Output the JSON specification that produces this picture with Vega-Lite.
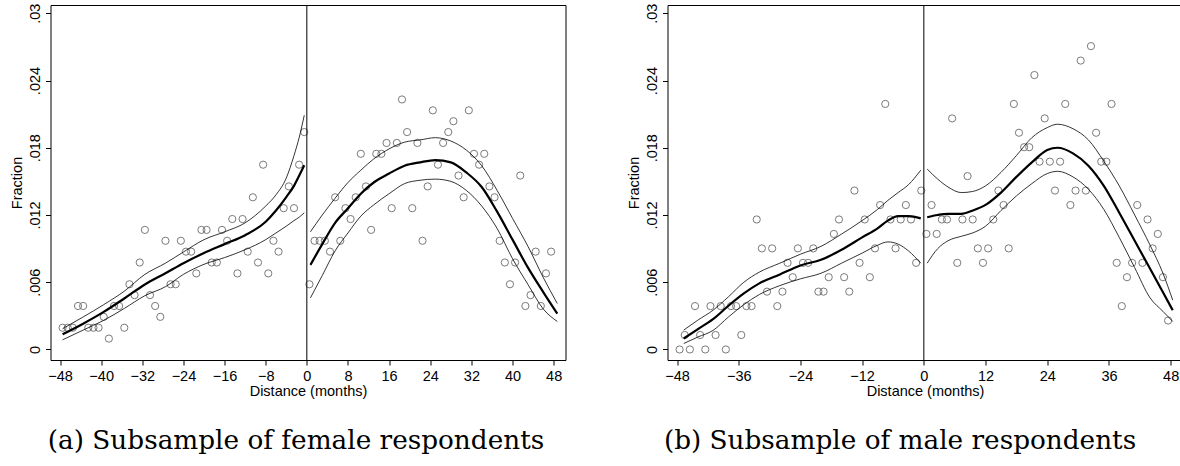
{
  "$schema": "https://vega.github.io/schema/vega-lite/v6.json",
  "background": "white",
  "padding": {"left": 8.5, "top": 2, "right": 0, "bottom": 0},
  "spacing": 59,
  "config": {
    "view": {"stroke": "black", "strokeWidth": 1},
    "axis": {"grid": false, "domain": false, "tickColor": "black", "tickSize": 5, "labelFont": "Liberation Sans", "labelFontSize": 14.5, "labelColor": "black", "titleFont": "Liberation Sans", "titleFontSize": 14.5, "titleFontWeight": "normal", "titleColor": "black", "labelFlush": false, "labelOverlap": false},
    "title": {"font": "DejaVu Serif", "fontSize": 26.3, "fontWeight": "normal", "color": "black"}
  },
  "datasets": {
    "fpts": [
      {"m": -47.5, "v": 0.00194}, {"m": -46.5, "v": 0.00194}, {"m": -45.5, "v": 0.00194}, {"m": -44.5, "v": 0.00388}, {"m": -43.5, "v": 0.00388}, {"m": -42.5, "v": 0.00194}, {"m": -41.5, "v": 0.00194}, {"m": -40.5, "v": 0.00194}, {"m": -39.5, "v": 0.00291}, {"m": -38.5, "v": 0.00097}, {"m": -37.5, "v": 0.00388}, {"m": -36.5, "v": 0.00388}, {"m": -35.5, "v": 0.00194}, {"m": -34.5, "v": 0.00582}, {"m": -33.5, "v": 0.00485}, {"m": -32.5, "v": 0.00776}, {"m": -31.5, "v": 0.01067}, {"m": -30.5, "v": 0.00485}, {"m": -29.5, "v": 0.00388}, {"m": -28.5, "v": 0.00291}, {"m": -27.5, "v": 0.0097}, {"m": -26.5, "v": 0.00582}, {"m": -25.5, "v": 0.00582}, {"m": -24.5, "v": 0.0097}, {"m": -23.5, "v": 0.00873}, {"m": -22.5, "v": 0.00873}, {"m": -21.5, "v": 0.00679}, {"m": -20.5, "v": 0.01067}, {"m": -19.5, "v": 0.01067}, {"m": -18.5, "v": 0.00776}, {"m": -17.5, "v": 0.00776}, {"m": -16.5, "v": 0.01067}, {"m": -15.5, "v": 0.0097}, {"m": -14.5, "v": 0.01164}, {"m": -13.5, "v": 0.00679}, {"m": -12.5, "v": 0.01164}, {"m": -11.5, "v": 0.00873}, {"m": -10.5, "v": 0.01358}, {"m": -9.5, "v": 0.00776}, {"m": -8.5, "v": 0.01649}, {"m": -7.5, "v": 0.00679}, {"m": -6.5, "v": 0.0097}, {"m": -5.5, "v": 0.00873}, {"m": -4.5, "v": 0.01261}, {"m": -3.5, "v": 0.01455}, {"m": -2.5, "v": 0.01261}, {"m": -1.5, "v": 0.01649}, {"m": -0.5, "v": 0.0194},
      {"m": 0.5, "v": 0.00582}, {"m": 1.5, "v": 0.0097}, {"m": 2.5, "v": 0.0097}, {"m": 3.5, "v": 0.0097}, {"m": 4.5, "v": 0.00873}, {"m": 5.5, "v": 0.01358}, {"m": 6.5, "v": 0.0097}, {"m": 7.5, "v": 0.01261}, {"m": 8.5, "v": 0.01164}, {"m": 9.5, "v": 0.01358}, {"m": 10.5, "v": 0.01746}, {"m": 11.5, "v": 0.01455}, {"m": 12.5, "v": 0.01067}, {"m": 13.5, "v": 0.01746}, {"m": 14.5, "v": 0.01746}, {"m": 15.5, "v": 0.01843}, {"m": 16.5, "v": 0.01261}, {"m": 17.5, "v": 0.01843}, {"m": 18.5, "v": 0.02231}, {"m": 19.5, "v": 0.0194}, {"m": 20.5, "v": 0.01261}, {"m": 21.5, "v": 0.01843}, {"m": 22.5, "v": 0.0097}, {"m": 23.5, "v": 0.01455}, {"m": 24.5, "v": 0.02134}, {"m": 25.5, "v": 0.01649}, {"m": 26.5, "v": 0.01843}, {"m": 27.5, "v": 0.0194}, {"m": 28.5, "v": 0.02037}, {"m": 29.5, "v": 0.01552}, {"m": 30.5, "v": 0.01358}, {"m": 31.5, "v": 0.02134}, {"m": 32.5, "v": 0.01746}, {"m": 33.5, "v": 0.01649}, {"m": 34.5, "v": 0.01746}, {"m": 35.5, "v": 0.01455}, {"m": 36.5, "v": 0.01358}, {"m": 37.5, "v": 0.0097}, {"m": 38.5, "v": 0.00776}, {"m": 39.5, "v": 0.00582}, {"m": 40.5, "v": 0.00776}, {"m": 41.5, "v": 0.01552}, {"m": 42.5, "v": 0.00388}, {"m": 43.5, "v": 0.00485}, {"m": 44.5, "v": 0.00873}, {"m": 45.5, "v": 0.00388}, {"m": 46.5, "v": 0.00679}, {"m": 47.5, "v": 0.00873}
    ],
    "mpts": [
      {"m": -47.5, "v": 0}, {"m": -46.5, "v": 0.00129}, {"m": -45.5, "v": 0}, {"m": -44.5, "v": 0.00387}, {"m": -43.5, "v": 0.00129}, {"m": -42.5, "v": 0}, {"m": -41.5, "v": 0.00387}, {"m": -40.5, "v": 0.00129}, {"m": -39.5, "v": 0.00387}, {"m": -38.5, "v": 0}, {"m": -37.5, "v": 0.00387}, {"m": -36.5, "v": 0.00387}, {"m": -35.5, "v": 0.00129}, {"m": -34.5, "v": 0.00387}, {"m": -33.5, "v": 0.00387}, {"m": -32.5, "v": 0.0116}, {"m": -31.5, "v": 0.00902}, {"m": -30.5, "v": 0.00516}, {"m": -29.5, "v": 0.00902}, {"m": -28.5, "v": 0.00387}, {"m": -27.5, "v": 0.00516}, {"m": -26.5, "v": 0.00773}, {"m": -25.5, "v": 0.00645}, {"m": -24.5, "v": 0.00902}, {"m": -23.5, "v": 0.00773}, {"m": -22.5, "v": 0.00773}, {"m": -21.5, "v": 0.00902}, {"m": -20.5, "v": 0.00516}, {"m": -19.5, "v": 0.00516}, {"m": -18.5, "v": 0.00645}, {"m": -17.5, "v": 0.01031}, {"m": -16.5, "v": 0.0116}, {"m": -15.5, "v": 0.00645}, {"m": -14.5, "v": 0.00516}, {"m": -13.5, "v": 0.01418}, {"m": -12.5, "v": 0.00773}, {"m": -11.5, "v": 0.0116}, {"m": -10.5, "v": 0.00645}, {"m": -9.5, "v": 0.00902}, {"m": -8.5, "v": 0.01289}, {"m": -7.5, "v": 0.02191}, {"m": -6.5, "v": 0.0116}, {"m": -5.5, "v": 0.00902}, {"m": -4.5, "v": 0.0116}, {"m": -3.5, "v": 0.01289}, {"m": -2.5, "v": 0.0116}, {"m": -1.5, "v": 0.00773}, {"m": -0.5, "v": 0.01418},
      {"m": 0.5, "v": 0.01031}, {"m": 1.5, "v": 0.01289}, {"m": 2.5, "v": 0.01031}, {"m": 3.5, "v": 0.0116}, {"m": 4.5, "v": 0.0116}, {"m": 5.5, "v": 0.02062}, {"m": 6.5, "v": 0.00773}, {"m": 7.5, "v": 0.0116}, {"m": 8.5, "v": 0.01547}, {"m": 9.5, "v": 0.0116}, {"m": 10.5, "v": 0.00902}, {"m": 11.5, "v": 0.00773}, {"m": 12.5, "v": 0.00902}, {"m": 13.5, "v": 0.0116}, {"m": 14.5, "v": 0.01418}, {"m": 15.5, "v": 0.01289}, {"m": 16.5, "v": 0.00902}, {"m": 17.5, "v": 0.02191}, {"m": 18.5, "v": 0.01934}, {"m": 19.5, "v": 0.01805}, {"m": 20.5, "v": 0.01805}, {"m": 21.5, "v": 0.02449}, {"m": 22.5, "v": 0.01676}, {"m": 23.5, "v": 0.02062}, {"m": 24.5, "v": 0.01676}, {"m": 25.5, "v": 0.01418}, {"m": 26.5, "v": 0.01676}, {"m": 27.5, "v": 0.02191}, {"m": 28.5, "v": 0.01289}, {"m": 29.5, "v": 0.01418}, {"m": 30.5, "v": 0.02578}, {"m": 31.5, "v": 0.01418}, {"m": 32.5, "v": 0.02707}, {"m": 33.5, "v": 0.01934}, {"m": 34.5, "v": 0.01676}, {"m": 35.5, "v": 0.01676}, {"m": 36.5, "v": 0.02191}, {"m": 37.5, "v": 0.00773}, {"m": 38.5, "v": 0.00387}, {"m": 39.5, "v": 0.00645}, {"m": 40.5, "v": 0.00773}, {"m": 41.5, "v": 0.01289}, {"m": 42.5, "v": 0.00773}, {"m": 43.5, "v": 0.0116}, {"m": 44.5, "v": 0.00902}, {"m": 45.5, "v": 0.01031}, {"m": 46.5, "v": 0.00645}, {"m": 47.5, "v": 0.00258}
    ],
    "ffit": [
      {"seg": "L", "m": -47.5, "fit": 0.00135, "lo": 0.00086, "hi": 0.00185},
      {"seg": "L", "m": -43.5, "fit": 0.0023, "lo": 0.00173, "hi": 0.0029},
      {"seg": "L", "m": -39.5, "fit": 0.00335, "lo": 0.0026, "hi": 0.004},
      {"seg": "L", "m": -35.5, "fit": 0.00455, "lo": 0.00366, "hi": 0.0052},
      {"seg": "L", "m": -31.5, "fit": 0.0058, "lo": 0.0048, "hi": 0.0067},
      {"seg": "L", "m": -27.5, "fit": 0.0068, "lo": 0.0056, "hi": 0.0077},
      {"seg": "L", "m": -24, "fit": 0.0077, "lo": 0.0067, "hi": 0.0087},
      {"seg": "L", "m": -20, "fit": 0.0086, "lo": 0.0076, "hi": 0.0098},
      {"seg": "L", "m": -16, "fit": 0.0094, "lo": 0.0082, "hi": 0.0105},
      {"seg": "L", "m": -12, "fit": 0.0102, "lo": 0.0089, "hi": 0.0113},
      {"seg": "L", "m": -8, "fit": 0.0114, "lo": 0.0098, "hi": 0.0128},
      {"seg": "L", "m": -6, "fit": 0.0124, "lo": 0.0104, "hi": 0.0138},
      {"seg": "L", "m": -4, "fit": 0.0136, "lo": 0.011, "hi": 0.0153},
      {"seg": "L", "m": -2.5, "fit": 0.0146, "lo": 0.0115, "hi": 0.0173},
      {"seg": "L", "m": -1.5, "fit": 0.0155, "lo": 0.0118, "hi": 0.0189},
      {"seg": "L", "m": -0.5, "fit": 0.01644, "lo": 0.0122, "hi": 0.0209},
      {"seg": "R", "m": 0.7, "fit": 0.00755, "lo": 0.0046, "hi": 0.0105},
      {"seg": "R", "m": 3, "fit": 0.0094, "lo": 0.0066, "hi": 0.012},
      {"seg": "R", "m": 5.5, "fit": 0.0113, "lo": 0.0088, "hi": 0.0135},
      {"seg": "R", "m": 8, "fit": 0.0126, "lo": 0.0104, "hi": 0.0149},
      {"seg": "R", "m": 10.5, "fit": 0.0139, "lo": 0.0119, "hi": 0.016},
      {"seg": "R", "m": 13, "fit": 0.0149, "lo": 0.0129, "hi": 0.017},
      {"seg": "R", "m": 16, "fit": 0.0157, "lo": 0.0139, "hi": 0.0179},
      {"seg": "R", "m": 19, "fit": 0.0164, "lo": 0.0148, "hi": 0.0185},
      {"seg": "R", "m": 22, "fit": 0.0167, "lo": 0.0151, "hi": 0.0187},
      {"seg": "R", "m": 25, "fit": 0.0169, "lo": 0.0152, "hi": 0.0189},
      {"seg": "R", "m": 28, "fit": 0.0167, "lo": 0.015, "hi": 0.0186},
      {"seg": "R", "m": 31, "fit": 0.0158, "lo": 0.0142, "hi": 0.0178},
      {"seg": "R", "m": 34, "fit": 0.0145, "lo": 0.0128, "hi": 0.0164},
      {"seg": "R", "m": 37, "fit": 0.0123, "lo": 0.0108, "hi": 0.0142},
      {"seg": "R", "m": 40, "fit": 0.0098, "lo": 0.0081, "hi": 0.0117},
      {"seg": "R", "m": 43, "fit": 0.0073, "lo": 0.0058, "hi": 0.0092},
      {"seg": "R", "m": 46, "fit": 0.0051, "lo": 0.0036, "hi": 0.0064},
      {"seg": "R", "m": 48.7, "fit": 0.0032, "lo": 0.0025, "hi": 0.0041}
    ],
    "mfit": [
      {"seg": "L", "m": -46.7, "fit": 0.00098, "lo": 0.00053, "hi": 0.00173},
      {"seg": "L", "m": -44, "fit": 0.0018, "lo": 0.0011, "hi": 0.0026},
      {"seg": "L", "m": -41, "fit": 0.0027, "lo": 0.0017, "hi": 0.0035},
      {"seg": "L", "m": -38, "fit": 0.0039, "lo": 0.0029, "hi": 0.0047},
      {"seg": "L", "m": -35, "fit": 0.005, "lo": 0.004, "hi": 0.006},
      {"seg": "L", "m": -32, "fit": 0.0059, "lo": 0.0049, "hi": 0.0069},
      {"seg": "L", "m": -28, "fit": 0.0067, "lo": 0.0057, "hi": 0.0077},
      {"seg": "L", "m": -24, "fit": 0.0075, "lo": 0.0063, "hi": 0.0085},
      {"seg": "L", "m": -20, "fit": 0.008, "lo": 0.0068, "hi": 0.0092},
      {"seg": "L", "m": -16, "fit": 0.0089, "lo": 0.0077, "hi": 0.0103},
      {"seg": "L", "m": -12, "fit": 0.01, "lo": 0.0086, "hi": 0.0115},
      {"seg": "L", "m": -9, "fit": 0.0108, "lo": 0.0093, "hi": 0.0125},
      {"seg": "L", "m": -7, "fit": 0.0115, "lo": 0.0096, "hi": 0.0133},
      {"seg": "L", "m": -5, "fit": 0.0119, "lo": 0.0094, "hi": 0.014},
      {"seg": "L", "m": -3, "fit": 0.0119, "lo": 0.0088, "hi": 0.0147},
      {"seg": "L", "m": -0.6, "fit": 0.0117, "lo": 0.0077, "hi": 0.016},
      {"seg": "R", "m": 0.65, "fit": 0.0118, "lo": 0.0077, "hi": 0.0161},
      {"seg": "R", "m": 2.7, "fit": 0.012, "lo": 0.009, "hi": 0.0152},
      {"seg": "R", "m": 4.7, "fit": 0.0121, "lo": 0.0097, "hi": 0.0145},
      {"seg": "R", "m": 7.3, "fit": 0.0121, "lo": 0.0101, "hi": 0.014},
      {"seg": "R", "m": 9.5, "fit": 0.0124, "lo": 0.0104, "hi": 0.0141},
      {"seg": "R", "m": 12, "fit": 0.0129, "lo": 0.011, "hi": 0.0146},
      {"seg": "R", "m": 15, "fit": 0.014, "lo": 0.0124, "hi": 0.0158},
      {"seg": "R", "m": 18, "fit": 0.0154, "lo": 0.0137, "hi": 0.0173},
      {"seg": "R", "m": 21, "fit": 0.0167, "lo": 0.0148, "hi": 0.0189},
      {"seg": "R", "m": 24, "fit": 0.0178, "lo": 0.0157, "hi": 0.0198},
      {"seg": "R", "m": 26, "fit": 0.018, "lo": 0.0159, "hi": 0.0201},
      {"seg": "R", "m": 29, "fit": 0.0175, "lo": 0.0154, "hi": 0.0197},
      {"seg": "R", "m": 32, "fit": 0.0164, "lo": 0.0143, "hi": 0.0187},
      {"seg": "R", "m": 35, "fit": 0.0146, "lo": 0.0125, "hi": 0.0168},
      {"seg": "R", "m": 38, "fit": 0.0122, "lo": 0.01, "hi": 0.0146},
      {"seg": "R", "m": 41, "fit": 0.0097, "lo": 0.0073, "hi": 0.012},
      {"seg": "R", "m": 44, "fit": 0.0072, "lo": 0.0046, "hi": 0.0093},
      {"seg": "R", "m": 46.5, "fit": 0.0051, "lo": 0.0034, "hi": 0.0068},
      {"seg": "R", "m": 48.4, "fit": 0.0035, "lo": 0.0025, "hi": 0.0044}
    ],
    "zero": [{"m": 0}]
  },
  "hconcat": [
    {
      "width": 515,
      "height": 355,
      "title": {"text": "(a) Subsample of female respondents", "orient": "bottom", "anchor": "middle", "frame": "group", "offset": 30, "dx": -12},
      "layer": [
        {
          "data": {"name": "fpts"},
          "mark": {"type": "point", "shape": "circle", "filled": false, "size": 52, "stroke": "#7a7a7a", "strokeWidth": 1, "opacity": 1},
          "encoding": {
            "x": {"field": "m", "type": "quantitative", "title": "Distance (months)", "scale": {"domain": [-49.85, 50.3], "nice": false, "zero": false}, "axis": {"values": [-48, -40, -32, -24, -16, -8, 0, 8, 16, 24, 32, 40, 48], "labelPadding": 4, "titlePadding": 2}},
            "y": {"field": "v", "type": "quantitative", "title": "Fraction", "scale": {"domain": [-0.00094, 0.03074], "nice": false, "zero": false}, "axis": {"values": [0, 0.006, 0.012, 0.018, 0.024, 0.03], "labelExpr": "datum.value == 0 ? '0' : slice(format(datum.value, '.3~f'), 1)", "labelAngle": -90, "labelAlign": "center", "labelBaseline": "bottom", "labelPadding": 3, "titlePadding": 3}}
          }
        },
        {
          "data": {"name": "ffit"},
          "mark": {"type": "line", "color": "black", "strokeWidth": 0.8, "interpolate": "monotone"},
          "encoding": {"x": {"field": "m", "type": "quantitative", "title": "Distance (months)"}, "y": {"field": "lo", "type": "quantitative", "title": "Fraction"}, "detail": {"field": "seg"}}
        },
        {
          "data": {"name": "ffit"},
          "mark": {"type": "line", "color": "black", "strokeWidth": 0.8, "interpolate": "monotone"},
          "encoding": {"x": {"field": "m", "type": "quantitative", "title": "Distance (months)"}, "y": {"field": "hi", "type": "quantitative", "title": "Fraction"}, "detail": {"field": "seg"}}
        },
        {
          "data": {"name": "ffit"},
          "mark": {"type": "line", "color": "black", "strokeWidth": 2.2, "interpolate": "monotone"},
          "encoding": {"x": {"field": "m", "type": "quantitative", "title": "Distance (months)"}, "y": {"field": "fit", "type": "quantitative", "title": "Fraction"}, "detail": {"field": "seg"}}
        },
        {
          "data": {"name": "zero"},
          "mark": {"type": "rule", "color": "black", "strokeWidth": 1},
          "encoding": {"x": {"field": "m", "type": "quantitative", "title": "Distance (months)"}}
        }
      ]
    },
    {
      "width": 515,
      "height": 355,
      "title": {"text": "(b) Subsample of male respondents", "orient": "bottom", "anchor": "middle", "frame": "group", "offset": 30, "dx": -25},
      "layer": [
        {
          "data": {"name": "mpts"},
          "mark": {"type": "point", "shape": "circle", "filled": false, "size": 52, "stroke": "#7a7a7a", "strokeWidth": 1, "opacity": 1},
          "encoding": {
            "x": {"field": "m", "type": "quantitative", "title": "Distance (months)", "scale": {"domain": [-49.85, 50.3], "nice": false, "zero": false}, "axis": {"values": [-48, -36, -24, -12, 0, 12, 24, 36, 48], "labelPadding": 4, "titlePadding": 2}},
            "y": {"field": "v", "type": "quantitative", "title": "Fraction", "scale": {"domain": [-0.00094, 0.03074], "nice": false, "zero": false}, "axis": {"values": [0, 0.006, 0.012, 0.018, 0.024, 0.03], "labelExpr": "datum.value == 0 ? '0' : slice(format(datum.value, '.3~f'), 1)", "labelAngle": -90, "labelAlign": "center", "labelBaseline": "bottom", "labelPadding": 3, "titlePadding": 3}}
          }
        },
        {
          "data": {"name": "mfit"},
          "mark": {"type": "line", "color": "black", "strokeWidth": 0.8, "interpolate": "monotone"},
          "encoding": {"x": {"field": "m", "type": "quantitative", "title": "Distance (months)"}, "y": {"field": "lo", "type": "quantitative", "title": "Fraction"}, "detail": {"field": "seg"}}
        },
        {
          "data": {"name": "mfit"},
          "mark": {"type": "line", "color": "black", "strokeWidth": 0.8, "interpolate": "monotone"},
          "encoding": {"x": {"field": "m", "type": "quantitative", "title": "Distance (months)"}, "y": {"field": "hi", "type": "quantitative", "title": "Fraction"}, "detail": {"field": "seg"}}
        },
        {
          "data": {"name": "mfit"},
          "mark": {"type": "line", "color": "black", "strokeWidth": 2.2, "interpolate": "monotone"},
          "encoding": {"x": {"field": "m", "type": "quantitative", "title": "Distance (months)"}, "y": {"field": "fit", "type": "quantitative", "title": "Fraction"}, "detail": {"field": "seg"}}
        },
        {
          "data": {"name": "zero"},
          "mark": {"type": "rule", "color": "black", "strokeWidth": 1},
          "encoding": {"x": {"field": "m", "type": "quantitative", "title": "Distance (months)"}}
        }
      ]
    }
  ]
}
